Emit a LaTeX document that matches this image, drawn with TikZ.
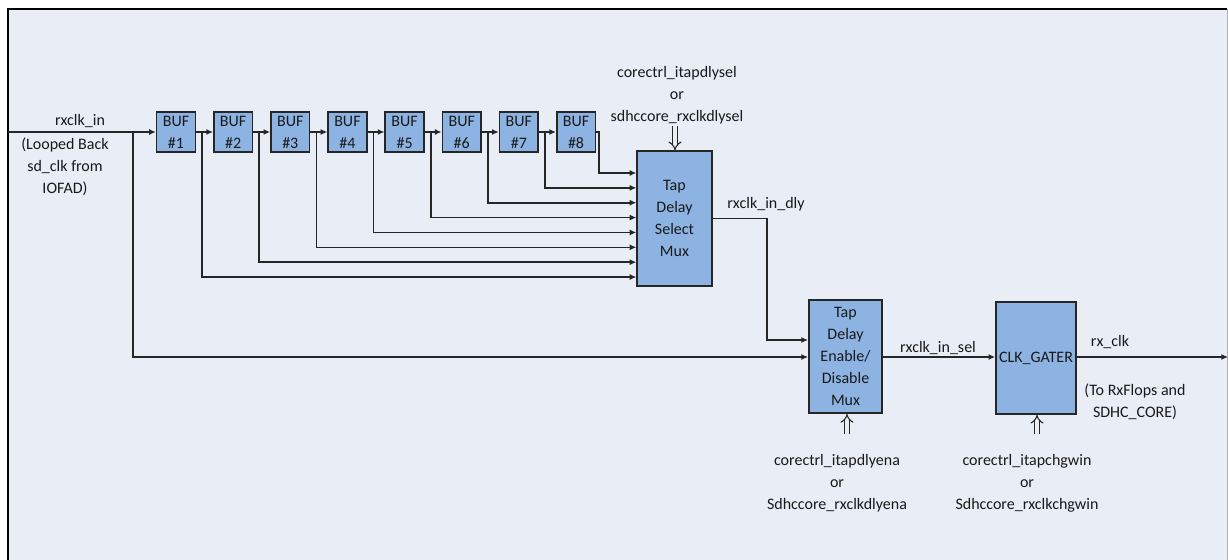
\documentclass[tikz,border=0pt]{standalone}
\usepackage{fontspec}
\setmainfont{Carlito}
\usetikzlibrary{arrows.meta}
\definecolor{paneblue}{HTML}{E9EDF6}
\definecolor{boxblue}{HTML}{8DB3E2}
\begin{document}
\begin{tikzpicture}[x=0.75pt,y=-0.75pt,
    every node/.style={font=\fontsize{12}{16.5}\selectfont,text=black!90},
    blk/.style={draw=black!85,line width=1.2pt,fill=boxblue,align=center,inner sep=1pt},
    sig/.style={draw=black!85,line width=1.2pt,-{Latex[length=5pt,width=4.5pt]}},
    ctl/.style={draw=black!85,double=paneblue,double distance=2.6pt,line width=0.8pt,-{Implies}}]
    \useasboundingbox (0,0) rectangle (1228,560);
    \fill[paneblue] (8,9) rectangle (1228,560);
    \draw[line width=1.2pt] (8,560) -- (8,9) -- (1227,9);
    \draw[black!30] (1227,9) -- (1227,560);
    \foreach \i in {1,...,8}
        \node[blk,minimum width=29pt,minimum height=30pt] (buf\i) at ({176+57.15*(\i-1)},132) {BUF\\\#\i};
    \node[blk,minimum width=56pt,minimum height=101pt] (sel) at (674.5,218.5) {Tap\\Delay\\Select\\Mux};
    \node[blk,minimum width=55pt,minimum height=85pt] (ena) at (845.5,356.5) {Tap\\Delay\\Enable/\\Disable\\Mux};
    \node[blk,minimum width=60pt,minimum height=84pt,inner sep=0pt] (gate) at (1036,358) {CLK\_GATER};
    \coordinate (src) at (8,132);
    \coordinate (lb) at (133,132);
    \coordinate (dly) at (767,340);
    \coordinate (out) at (1228,357);
    \coordinate (csel) at (675,126);
    \coordinate (cena) at (847,434);
    \coordinate (cgate) at (1037,434);
    \draw[sig] (src) -- (buf1.west);
    \foreach \i [count=\j from 2] in {1,...,7}
        \draw[sig] (buf\i.east) -- (buf\j.west);
    \foreach \i in {1,...,7} {
        \pgfmathsetmacro\yy{173+14.86*(8-\i)}
        \draw[sig] (buf\i.east) ++(6,0) |- (sel.west |- 0,\yy);
    }
    \draw[sig] (buf8.east) -- ++(3,0) |- (sel.west |- 0,173);
    \draw[sig] (lb) |- (ena.west |- 0,357);
    \draw[sig] (sel.east) -| (dly) -- (ena.west |- dly);
    \draw[sig] (ena.east |- 0,357) -- (gate.west |- 0,357);
    \draw[sig] (gate.east |- out) -- (out);
    \draw[ctl] (csel) -- (csel |- sel.north);
    \draw[ctl] (cena) -- (cena |- ena.south);
    \draw[ctl] (cgate) -- (cgate |- gate.south);
    \node (lin) at (80,121) {rxclk\_in};
    \node[align=center] (lloop) at (65,167) {(Looped Back\\sd\_clk from\\IOFAD)};
    \node[align=center] (lsel) at (677,95) {corectrl\_itapdlysel\\or\\sdhccore\_rxclkdlysel};
    \node (ldly) at (766,204) {rxclk\_in\_dly};
    \node (lsl) at (938,348) {rxclk\_in\_sel};
    \node (lrx) at (1110,342) {rx\_clk};
    \node[align=center] (lto) at (1135,402) {(To RxFlops and\\SDHC\_CORE)};
    \node[align=center] (lena) at (837,483) {corectrl\_itapdlyena\\or\\Sdhccore\_rxclkdlyena};
    \node[align=center] (lgate) at (1027,483) {corectrl\_itapchgwin\\or\\Sdhccore\_rxclkchgwin};
\end{tikzpicture}
\end{document}
